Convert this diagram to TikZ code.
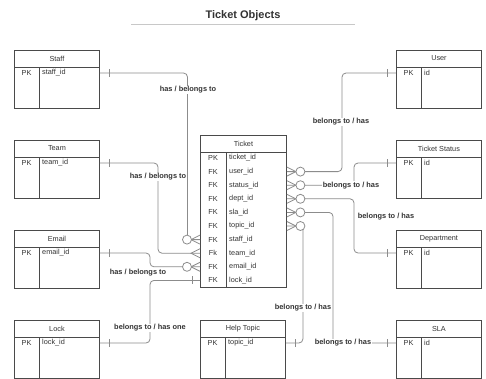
\documentclass[tikz,border=0pt]{standalone}
\usepackage{fontspec}
\setmainfont{Liberation Sans}
\usetikzlibrary{calc}
\definecolor{boxc}{HTML}{4A4A4A}
\definecolor{linec}{HTML}{8C8C8C}
\definecolor{txtc}{HTML}{333333}
\definecolor{rulec}{HTML}{C8C8C8}
\newcommand\erbox[5]{%
  \node[erb] (#1) at (#2,#3) {};
  \draw[boxc, line width=0.9pt] ([yshift=-17pt]#1.north west) -- ([yshift=-17pt]#1.north east);
  \draw[boxc, line width=0.9pt] ([xshift=25pt,yshift=-17pt]#1.north west) -- ([xshift=25pt]#1.south west);
  \node[ftxt] at ([yshift=-8.5pt]#1.north) {#4};
  \node[ftxt] at ([xshift=12.5pt,yshift=-23pt]#1.north west) {PK};
  \node[ftxt, anchor=west] at ([xshift=28pt,yshift=-23pt]#1.north west) {#5};
  \coordinate (#1-l) at ([yshift=-23pt]#1.north west);
  \coordinate (#1-r) at ([yshift=-23pt]#1.north east);
}
\newcommand\crowR[1]{\draw[conn] ($(#1)+(0,-4.5)$) -- ($(#1)+(9,0)$) -- ($(#1)+(0,4.5)$);}
\newcommand\crowL[1]{\draw[conn] ($(#1)+(0,-4.5)$) -- ($(#1)+(-9,0)$) -- ($(#1)+(0,4.5)$);}
\newcommand\ringat[2]{\draw[conn, fill=white] ($(#1)+(#2,0)$) circle (4.5pt);}
\newcommand\tickat[2]{\draw[conn] ($(#1)+(#2,-4)$) -- ($(#1)+(#2,4)$);}
\begin{document}
\begin{tikzpicture}[x=1pt,y=-1pt,
  erb/.style={draw=boxc, line width=0.9pt, minimum width=85pt, minimum height=58pt, inner sep=0pt, anchor=north west},
  conn/.style={draw=linec, line width=0.8pt},
  lbl/.style={fill=white, text=txtc, font=\bfseries\fontsize{7.4}{8.5}\selectfont, inner sep=1pt},
  ftxt/.style={text=txtc, font=\fontsize{7.3}{8}\selectfont, inner sep=0pt},
  ]
\useasboundingbox (0,0) rectangle (486,378);
\fill[white] (0,0) rectangle (486,378);
% title
\node[text=txtc, font=\bfseries\fontsize{11}{13}\selectfont] (title) at (243,16) {Ticket Objects};
\draw[rulec, line width=0.8pt] (131,24) -- (355,24);
% boxes
\erbox{staff}{14}{50}{Staff}{staff\_id}
\erbox{team}{14}{140}{Team}{team\_id}
\erbox{email}{14}{230}{Email}{email\_id}
\erbox{lock}{14}{320}{Lock}{lock\_id}
\erbox{user}{396}{50}{User}{id}
\erbox{status}{396}{140}{Ticket Status}{id}
\erbox{dept}{396}{230}{Department}{id}
\erbox{sla}{396}{320}{SLA}{id}
\erbox{topic}{200}{320}{Help Topic}{topic\_id}
% ticket
\node[erb, minimum width=86pt, minimum height=152pt] (ticket) at (200,135) {};
\draw[boxc, line width=0.9pt] ([yshift=-17pt]ticket.north west) -- ([yshift=-17pt]ticket.north east);
\draw[boxc, line width=0.9pt] ([xshift=26pt,yshift=-17pt]ticket.north west) -- ([xshift=26pt]ticket.south west);
\node[ftxt] at ([yshift=-8.5pt]ticket.north) {Ticket};
\foreach \k/\f/\n [count=\i from 0] in {PK/ticket\_id/tid, FK/user\_id/tuser, FK/status\_id/tstatus, FK/dept\_id/tdept, FK/sla\_id/tsla, FK/topic\_id/ttopic, FK/staff\_id/tstaff, Fk/team\_id/tteam, FK/email\_id/temail, FK/lock\_id/tlock}{
  \node[ftxt] at ([xshift=13pt,yshift={-(23+13.6*\i)*1pt}]ticket.north west) {\k};
  \node[ftxt, anchor=west] at ([xshift=29pt,yshift={-(23+13.6*\i)*1pt}]ticket.north west) {\f};
  \coordinate (\n-l) at ([yshift={-(23+13.6*\i)*1pt}]ticket.north west);
  \coordinate (\n-r) at ([yshift={-(23+13.6*\i)*1pt}]ticket.north east);
}
% connectors left
\draw[conn, rounded corners=4pt] (staff-r) -| ($(tstaff-l)+(-12.5,0)$) -- (tstaff-l);
\draw[conn, rounded corners=4pt] (team-r) -| ($(tteam-l)+(-42,0)$) -- (tteam-l);
\draw[conn, rounded corners=4pt] (email-r) -| ($(temail-l)+(-50,0)$) -- (temail-l);
\draw[conn, rounded corners=4pt] (lock-r) -| ($(tlock-l)+(-50,0)$) -- (tlock-l);
% connectors right
\draw[conn, rounded corners=4pt] (tuser-r) -| ($(user-l)+(-54,0)$) -- (user-l);
\draw[conn, rounded corners=4pt] (tstatus-r) -| ($(status-l)+(-42,0)$) -- (status-l);
\draw[conn, rounded corners=4pt] (tdept-r) -| ($(dept-l)+(-42,0)$) -- (dept-l);
\draw[conn, rounded corners=4pt] (tsla-r) -| ($(sla-l)+(-63,0)$) -- (sla-l);
\draw[conn, rounded corners=4pt] (ttopic-r) -| ($(topic-r)+(17,0)$) -- (topic-r);
% markers
\tickat{staff-r}{9} \tickat{team-r}{9} \tickat{email-r}{9} \tickat{lock-r}{9}
\tickat{user-l}{-9} \tickat{status-l}{-9} \tickat{dept-l}{-9} \tickat{sla-l}{-9}
\tickat{topic-r}{9} \tickat{tlock-l}{-8}
\crowL{tstaff-l} \ringat{tstaff-l}{-13}
\crowL{tteam-l}
\crowL{temail-l} \ringat{temail-l}{-13}
\crowR{tuser-r} \ringat{tuser-r}{13.5}
\crowR{tstatus-r} \ringat{tstatus-r}{13.5}
\crowR{tdept-r} \ringat{tdept-r}{13.5}
\crowR{tsla-r} \ringat{tsla-r}{13.5}
\crowR{ttopic-r} \ringat{ttopic-r}{13.5}
% labels
\node[lbl] (l1) at (188,90) {has / belongs to};
\node[lbl] (l2) at (158,177) {has / belongs to};
\node[lbl] (l3) at (138,273) {has / belongs to};
\node[lbl] (l4) at (150,328) {belongs to / has one};
\node[lbl] (l5) at (341,122) {belongs to / has};
\node[lbl] (l6) at (351,185.2) {belongs to / has};
\node[lbl] (l7) at (386,217) {belongs to / has};
\node[lbl] (l8) at (343,343) {belongs to / has};
\node[lbl] (l9) at (303,308) {belongs to / has};
\end{tikzpicture}
\end{document}
